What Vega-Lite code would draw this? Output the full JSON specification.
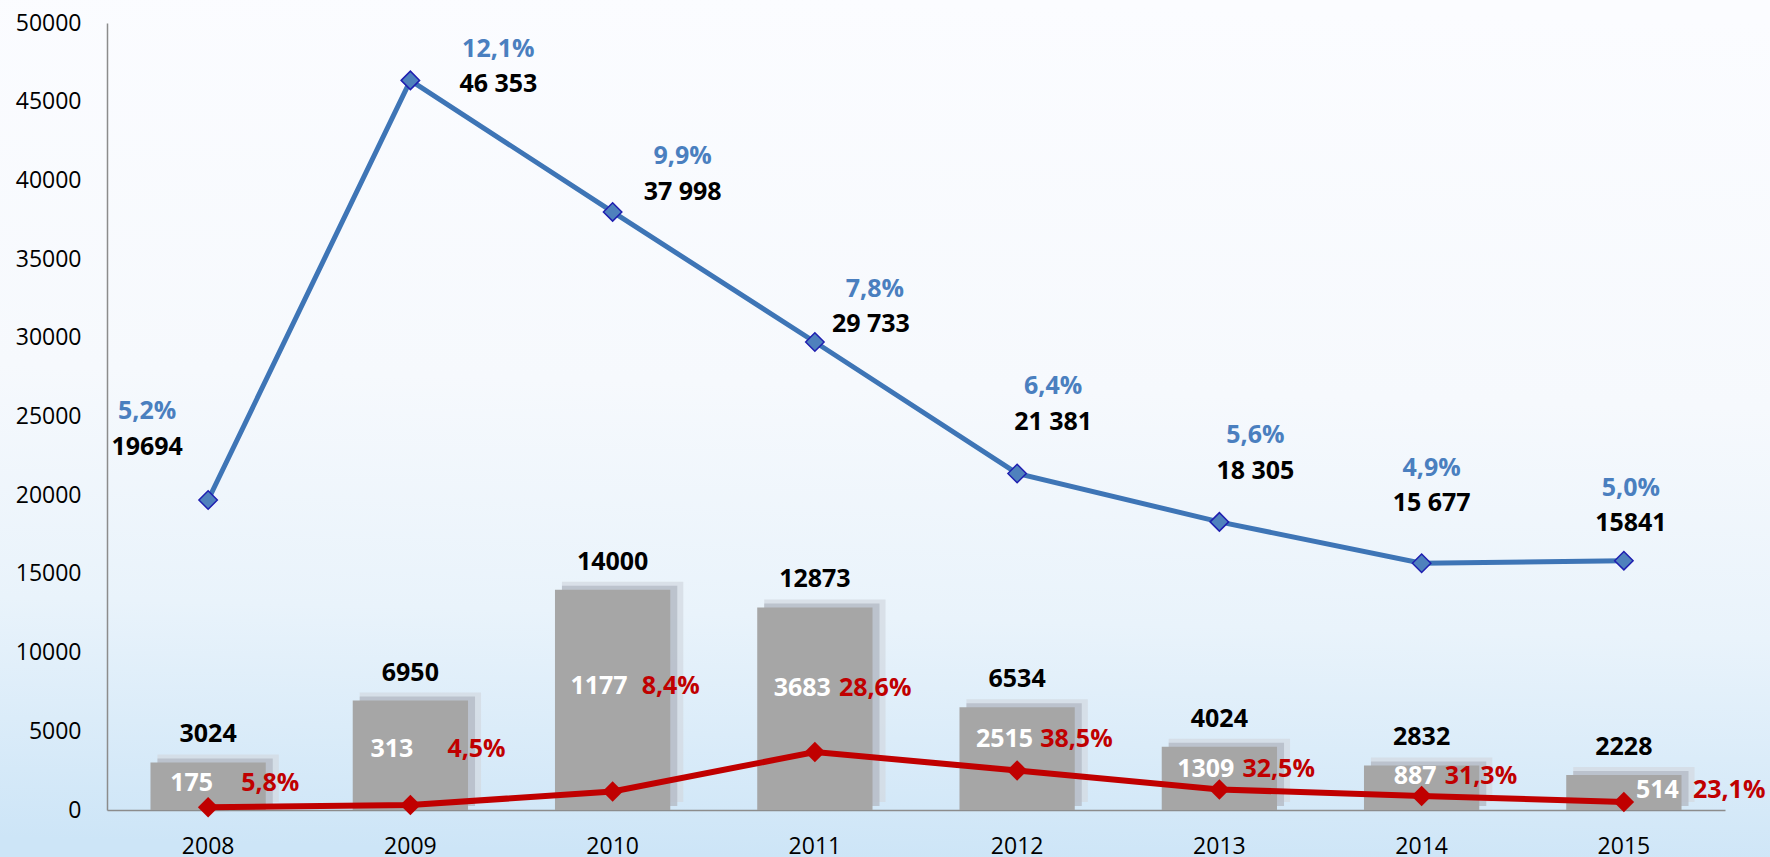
{
  "$schema": "https://vega.github.io/schema/vega-lite/v6.json",
  "width": 1770,
  "height": 857,
  "autosize": {"type": "none"},
  "padding": 0,
  "background": "#eef5fc",
  "config": {
    "view": {"stroke": null, "fill": {"gradient": "linear", "x1": 0.5, "y1": 0, "x2": 0.45, "y2": 1, "stops": [{"offset": 0, "color": "#fbfcff"}, {"offset": 0.45, "color": "#f6f9fd"}, {"offset": 0.72, "color": "#e9f3fb"}, {"offset": 1, "color": "#cde5f7"}]}},
    "text": {"font": "Open Sans", "fontWeight": "bold", "fontSize": 25, "baseline": "middle"},
    "axis": {"labelFont": "Open Sans", "labelFontSize": 23, "labelColor": "#000000", "domainColor": "#8c8c8c", "domainWidth": 1.5, "ticks": false, "grid": false, "title": null}
  },
  "data": {"values": [
    {"year": "2008", "total": 19694, "total_label": "19694", "share": "5,2%", "bar": 3024, "red": 175, "red_pct": "5,8%"},
    {"year": "2009", "total": 46353, "total_label": "46 353", "share": "12,1%", "bar": 6950, "red": 313, "red_pct": "4,5%"},
    {"year": "2010", "total": 37998, "total_label": "37 998", "share": "9,9%", "bar": 14000, "red": 1177, "red_pct": "8,4%"},
    {"year": "2011", "total": 29733, "total_label": "29 733", "share": "7,8%", "bar": 12873, "red": 3683, "red_pct": "28,6%"},
    {"year": "2012", "total": 21381, "total_label": "21 381", "share": "6,4%", "bar": 6534, "red": 2515, "red_pct": "38,5%"},
    {"year": "2013", "total": 18305, "total_label": "18 305", "share": "5,6%", "bar": 4024, "red": 1309, "red_pct": "32,5%"},
    {"year": "2014", "total": 15677, "total_label": "15 677", "share": "4,9%", "bar": 2832, "red": 887, "red_pct": "31,3%"},
    {"year": "2015", "total": 15841, "total_label": "15841", "share": "5,0%", "bar": 2228, "red": 514, "red_pct": "23,1%"}
  ]},
  "encoding": {
    "x": {"field": "year", "type": "ordinal", "scale": {"type": "band", "paddingInner": 0, "paddingOuter": 0, "range": [107, 1725]}, "axis": {"labelAngle": 0, "labelPadding": 25, "offset": -47}}
  },
  "layer": [
    {
      "mark": {"type": "bar", "width": {"band": 0.6}, "xOffset": 10, "yOffset": -8, "color": "#d3d9e1", "opacity": 0.75},
      "encoding": {"y": {"field": "bar", "type": "quantitative", "scale": {"domain": [0, 50000], "nice": false, "range": [810, 23]}, "axis": {"values": [0, 5000, 10000, 15000, 20000, 25000, 30000, 35000, 40000, 45000, 50000], "format": "d", "labelPadding": 26, "offset": -107}}}
    },
    {
      "mark": {"type": "bar", "width": {"band": 0.57}, "xOffset": 7, "yOffset": -4, "color": "#b6bdc8", "opacity": 0.85},
      "encoding": {"y": {"field": "bar", "type": "quantitative"}}
    },
    {
      "mark": {"type": "bar", "width": {"band": 0.57}, "color": "#a6a6a6"},
      "encoding": {"y": {"field": "bar", "type": "quantitative"}}
    },
    {
      "mark": {"type": "text", "dy": -28, "color": "#000000"},
      "encoding": {"y": {"field": "bar", "type": "quantitative"}, "text": {"field": "bar", "type": "nominal"}}
    },
    {
      "mark": {"type": "line", "color": "#3e75b6", "strokeWidth": 5},
      "encoding": {"y": {"field": "total", "type": "quantitative"}}
    },
    {
      "mark": {"type": "point", "shape": "diamond", "filled": true, "size": 340, "fill": "#4f81bd", "stroke": "#1f1fb0", "strokeWidth": 1.5, "opacity": 1},
      "encoding": {"y": {"field": "total", "type": "quantitative"}}
    },
    {
      "mark": {"type": "line", "color": "#c00000", "strokeWidth": 6},
      "encoding": {"y": {"field": "red", "type": "quantitative"}}
    },
    {
      "mark": {"type": "point", "shape": "diamond", "filled": true, "size": 420, "color": "#c00000", "opacity": 1},
      "encoding": {"y": {"field": "red", "type": "quantitative"}}
    },
    {
      "transform": [{"filter": "datum.year == '2008'"}],
      "encoding": {"y": {"field": "total", "type": "quantitative"}},
      "layer": [
        {"mark": {"type": "text", "dx": -61, "dy": -53, "color": "#000000"}, "encoding": {"text": {"field": "total_label"}}},
        {"mark": {"type": "text", "dx": -61, "dy": -89, "color": "#4a7fbf"}, "encoding": {"text": {"field": "share"}}}
      ]
    },
    {
      "transform": [{"filter": "datum.year == '2009'"}],
      "encoding": {"y": {"field": "total", "type": "quantitative"}},
      "layer": [
        {"mark": {"type": "text", "dx": 88, "dy": 4, "color": "#000000"}, "encoding": {"text": {"field": "total_label"}}},
        {"mark": {"type": "text", "dx": 88, "dy": -31, "color": "#4a7fbf"}, "encoding": {"text": {"field": "share"}}}
      ]
    },
    {
      "transform": [{"filter": "datum.year == '2010'"}],
      "encoding": {"y": {"field": "total", "type": "quantitative"}},
      "layer": [
        {"mark": {"type": "text", "dx": 70, "dy": -20, "color": "#000000"}, "encoding": {"text": {"field": "total_label"}}},
        {"mark": {"type": "text", "dx": 70, "dy": -56, "color": "#4a7fbf"}, "encoding": {"text": {"field": "share"}}}
      ]
    },
    {
      "transform": [{"filter": "datum.year == '2011'"}],
      "encoding": {"y": {"field": "total", "type": "quantitative"}},
      "layer": [
        {"mark": {"type": "text", "dx": 56, "dy": -18, "color": "#000000"}, "encoding": {"text": {"field": "total_label"}}},
        {"mark": {"type": "text", "dx": 60, "dy": -53, "color": "#4a7fbf"}, "encoding": {"text": {"field": "share"}}}
      ]
    },
    {
      "transform": [{"filter": "datum.year == '2012' || datum.year == '2013'"}],
      "encoding": {"y": {"field": "total", "type": "quantitative"}},
      "layer": [
        {"mark": {"type": "text", "dx": 36, "dy": -51, "color": "#000000"}, "encoding": {"text": {"field": "total_label"}}},
        {"mark": {"type": "text", "dx": 36, "dy": -87, "color": "#4a7fbf"}, "encoding": {"text": {"field": "share"}}}
      ]
    },
    {
      "transform": [{"filter": "datum.year == '2014'"}],
      "encoding": {"y": {"field": "total", "type": "quantitative"}},
      "layer": [
        {"mark": {"type": "text", "dx": 10, "dy": -60, "color": "#000000"}, "encoding": {"text": {"field": "total_label"}}},
        {"mark": {"type": "text", "dx": 10, "dy": -95, "color": "#4a7fbf"}, "encoding": {"text": {"field": "share"}}}
      ]
    },
    {
      "transform": [{"filter": "datum.year == '2015'"}],
      "encoding": {"y": {"field": "total", "type": "quantitative"}},
      "layer": [
        {"mark": {"type": "text", "dx": 7, "dy": -38, "color": "#000000"}, "encoding": {"text": {"field": "total_label"}}},
        {"mark": {"type": "text", "dx": 7, "dy": -73, "color": "#4a7fbf"}, "encoding": {"text": {"field": "share"}}}
      ]
    },
    {
      "transform": [{"filter": "datum.year == '2008'"}],
      "encoding": {"y": {"field": "red", "type": "quantitative"}},
      "layer": [
        {"mark": {"type": "text", "align": "right", "dx": 5, "dy": -24, "color": "#ffffff"}, "encoding": {"text": {"field": "red", "type": "nominal"}}},
        {"mark": {"type": "text", "align": "left", "dx": 33, "dy": -24, "color": "#c00000"}, "encoding": {"text": {"field": "red_pct"}}}
      ]
    },
    {
      "transform": [{"filter": "datum.year == '2009'"}],
      "encoding": {"y": {"field": "red", "type": "quantitative"}},
      "layer": [
        {"mark": {"type": "text", "align": "right", "dx": 3, "dy": -56, "color": "#ffffff"}, "encoding": {"text": {"field": "red", "type": "nominal"}}},
        {"mark": {"type": "text", "align": "left", "dx": 37, "dy": -56, "color": "#c00000"}, "encoding": {"text": {"field": "red_pct"}}}
      ]
    },
    {
      "transform": [{"filter": "datum.year == '2010'"}],
      "encoding": {"y": {"field": "red", "type": "quantitative"}},
      "layer": [
        {"mark": {"type": "text", "align": "right", "dx": 15, "dy": -105, "color": "#ffffff"}, "encoding": {"text": {"field": "red", "type": "nominal"}}},
        {"mark": {"type": "text", "align": "left", "dx": 29, "dy": -105, "color": "#c00000"}, "encoding": {"text": {"field": "red_pct"}}}
      ]
    },
    {
      "transform": [{"filter": "datum.year == '2011'"}],
      "encoding": {"y": {"field": "red", "type": "quantitative"}},
      "layer": [
        {"mark": {"type": "text", "align": "right", "dx": 16, "dy": -64, "color": "#ffffff"}, "encoding": {"text": {"field": "red", "type": "nominal"}}},
        {"mark": {"type": "text", "align": "left", "dx": 24, "dy": -64, "color": "#c00000"}, "encoding": {"text": {"field": "red_pct"}}}
      ]
    },
    {
      "transform": [{"filter": "datum.year == '2012'"}],
      "encoding": {"y": {"field": "red", "type": "quantitative"}},
      "layer": [
        {"mark": {"type": "text", "align": "right", "dx": 16, "dy": -31, "color": "#ffffff"}, "encoding": {"text": {"field": "red", "type": "nominal"}}},
        {"mark": {"type": "text", "align": "left", "dx": 23, "dy": -31, "color": "#c00000"}, "encoding": {"text": {"field": "red_pct"}}}
      ]
    },
    {
      "transform": [{"filter": "datum.year == '2013' || datum.year == '2014'"}],
      "encoding": {"y": {"field": "red", "type": "quantitative"}},
      "layer": [
        {"mark": {"type": "text", "align": "right", "dx": 15, "dy": -20, "color": "#ffffff"}, "encoding": {"text": {"field": "red", "type": "nominal"}}},
        {"mark": {"type": "text", "align": "left", "dx": 23, "dy": -20, "color": "#c00000"}, "encoding": {"text": {"field": "red_pct"}}}
      ]
    },
    {
      "transform": [{"filter": "datum.year == '2015'"}],
      "encoding": {"y": {"field": "red", "type": "quantitative"}},
      "layer": [
        {"mark": {"type": "text", "align": "right", "dx": 55, "dy": -12, "color": "#ffffff"}, "encoding": {"text": {"field": "red", "type": "nominal"}}},
        {"mark": {"type": "text", "align": "left", "dx": 69, "dy": -12, "color": "#c00000"}, "encoding": {"text": {"field": "red_pct"}}}
      ]
    }
  ]
}
